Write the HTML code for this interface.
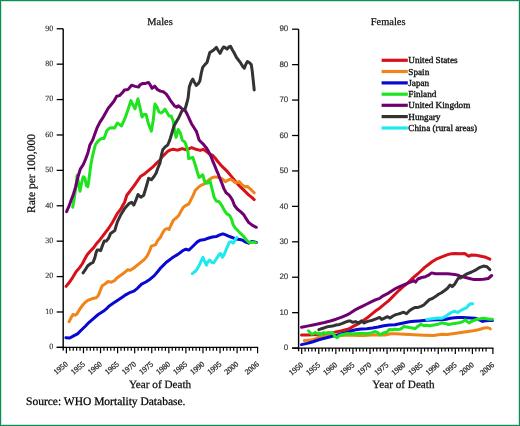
<!DOCTYPE html>
<html><head><meta charset="utf-8"><style>
html,body{margin:0;padding:0;background:#fff;}
body{width:520px;height:426px;overflow:hidden;}
svg{display:block;will-change:transform;filter:blur(0.3px);}
text{text-rendering:geometricPrecision;font-family:"Liberation Serif",serif;fill:#000;stroke:#000;stroke-width:0.25px;}
.ys{font-size:8px;fill:#333;stroke:#333;stroke-width:0.15px;}
.yss{font-family:"Liberation Sans",sans-serif;font-size:8px;fill:#333;stroke:#333;stroke-width:0.15px;}
.xl{font-size:7.9px;fill:#222;stroke:#222;}
.lg{font-size:9.2px;fill:#111;stroke:#111;stroke-width:0.35px;}
.t{font-size:10.4px;fill:#111;stroke:#111;}
.ax{font-size:11.2px;fill:#111;stroke:#111;}
.src{font-size:11.5px;fill:#000;}
</style></head><body>
<svg width="520" height="426" viewBox="0 0 520 426">
<rect x="0" y="0" width="520" height="426" fill="#fff"/>
<text x="147.3" y="25.4" class="t">Males</text>
<text x="370.8" y="25.4" class="t">Females</text>
<text transform="translate(34.7,213) rotate(-90)" class="ax" style="font-size:11.5px">Rate per 100,000</text>
<text x="128.9" y="388.4" class="ax">Year of Death</text>
<text x="372.3" y="388.3" class="ax">Year of Death</text>
<text x="26" y="405.3" class="src">Source: WHO Mortality Database.</text>
<line x1="63.2" y1="28.75" x2="63.2" y2="350.59999999999997" stroke="#000" stroke-width="1.4"/>
<line x1="56.7" y1="347.4" x2="258.184" y2="347.4" stroke="#000" stroke-width="1.4"/>
<line x1="56.7" y1="347.40" x2="63.2" y2="347.40" stroke="#000" stroke-width="1.3"/>
<text x="53.3" y="349.30" text-anchor="end" class="ys">0</text>
<line x1="56.7" y1="311.99" x2="63.2" y2="311.99" stroke="#000" stroke-width="1.3"/>
<text x="53.3" y="313.89" text-anchor="end" class="ys">10</text>
<line x1="56.7" y1="276.59" x2="63.2" y2="276.59" stroke="#000" stroke-width="1.3"/>
<text x="53.3" y="278.49" text-anchor="end" class="ys">20</text>
<line x1="56.7" y1="241.18" x2="63.2" y2="241.18" stroke="#000" stroke-width="1.3"/>
<text x="53.3" y="243.08" text-anchor="end" class="ys">30</text>
<line x1="56.7" y1="205.78" x2="63.2" y2="205.78" stroke="#000" stroke-width="1.3"/>
<text x="53.3" y="207.68" text-anchor="end" class="ys">40</text>
<line x1="56.7" y1="170.37" x2="63.2" y2="170.37" stroke="#000" stroke-width="1.3"/>
<text x="53.3" y="172.27" text-anchor="end" class="ys">50</text>
<line x1="56.7" y1="134.97" x2="63.2" y2="134.97" stroke="#000" stroke-width="1.3"/>
<text x="53.3" y="136.87" text-anchor="end" class="ys">60</text>
<line x1="56.7" y1="99.56" x2="63.2" y2="99.56" stroke="#000" stroke-width="1.3"/>
<text x="53.3" y="101.46" text-anchor="end" class="ys">70</text>
<line x1="56.7" y1="64.16" x2="63.2" y2="64.16" stroke="#000" stroke-width="1.3"/>
<text x="53.3" y="66.06" text-anchor="end" class="ys">80</text>
<line x1="56.7" y1="28.75" x2="63.2" y2="28.75" stroke="#000" stroke-width="1.3"/>
<text x="53.3" y="30.65" text-anchor="end" class="ys">90</text>
<line x1="66.40" y1="347.4" x2="66.40" y2="353.2" stroke="#000" stroke-width="1.2"/>
<text transform="translate(68.40,364.90) rotate(-40)" text-anchor="end" class="xl">1950</text>
<line x1="69.81" y1="347.4" x2="69.81" y2="350.79999999999995" stroke="#000" stroke-width="1.2"/>
<line x1="73.23" y1="347.4" x2="73.23" y2="350.79999999999995" stroke="#000" stroke-width="1.2"/>
<line x1="76.64" y1="347.4" x2="76.64" y2="350.79999999999995" stroke="#000" stroke-width="1.2"/>
<line x1="80.06" y1="347.4" x2="80.06" y2="350.79999999999995" stroke="#000" stroke-width="1.2"/>
<line x1="83.47" y1="347.4" x2="83.47" y2="353.2" stroke="#000" stroke-width="1.2"/>
<text transform="translate(85.47,364.90) rotate(-40)" text-anchor="end" class="xl">1955</text>
<line x1="86.88" y1="347.4" x2="86.88" y2="350.79999999999995" stroke="#000" stroke-width="1.2"/>
<line x1="90.30" y1="347.4" x2="90.30" y2="350.79999999999995" stroke="#000" stroke-width="1.2"/>
<line x1="93.71" y1="347.4" x2="93.71" y2="350.79999999999995" stroke="#000" stroke-width="1.2"/>
<line x1="97.13" y1="347.4" x2="97.13" y2="350.79999999999995" stroke="#000" stroke-width="1.2"/>
<line x1="100.54" y1="347.4" x2="100.54" y2="353.2" stroke="#000" stroke-width="1.2"/>
<text transform="translate(102.54,364.90) rotate(-40)" text-anchor="end" class="xl">1960</text>
<line x1="103.95" y1="347.4" x2="103.95" y2="350.79999999999995" stroke="#000" stroke-width="1.2"/>
<line x1="107.37" y1="347.4" x2="107.37" y2="350.79999999999995" stroke="#000" stroke-width="1.2"/>
<line x1="110.78" y1="347.4" x2="110.78" y2="350.79999999999995" stroke="#000" stroke-width="1.2"/>
<line x1="114.20" y1="347.4" x2="114.20" y2="350.79999999999995" stroke="#000" stroke-width="1.2"/>
<line x1="117.61" y1="347.4" x2="117.61" y2="353.2" stroke="#000" stroke-width="1.2"/>
<text transform="translate(119.61,364.90) rotate(-40)" text-anchor="end" class="xl">1965</text>
<line x1="121.02" y1="347.4" x2="121.02" y2="350.79999999999995" stroke="#000" stroke-width="1.2"/>
<line x1="124.44" y1="347.4" x2="124.44" y2="350.79999999999995" stroke="#000" stroke-width="1.2"/>
<line x1="127.85" y1="347.4" x2="127.85" y2="350.79999999999995" stroke="#000" stroke-width="1.2"/>
<line x1="131.27" y1="347.4" x2="131.27" y2="350.79999999999995" stroke="#000" stroke-width="1.2"/>
<line x1="134.68" y1="347.4" x2="134.68" y2="353.2" stroke="#000" stroke-width="1.2"/>
<text transform="translate(136.68,364.90) rotate(-40)" text-anchor="end" class="xl">1970</text>
<line x1="138.09" y1="347.4" x2="138.09" y2="350.79999999999995" stroke="#000" stroke-width="1.2"/>
<line x1="141.51" y1="347.4" x2="141.51" y2="350.79999999999995" stroke="#000" stroke-width="1.2"/>
<line x1="144.92" y1="347.4" x2="144.92" y2="350.79999999999995" stroke="#000" stroke-width="1.2"/>
<line x1="148.34" y1="347.4" x2="148.34" y2="350.79999999999995" stroke="#000" stroke-width="1.2"/>
<line x1="151.75" y1="347.4" x2="151.75" y2="353.2" stroke="#000" stroke-width="1.2"/>
<text transform="translate(153.75,364.90) rotate(-40)" text-anchor="end" class="xl">1975</text>
<line x1="155.16" y1="347.4" x2="155.16" y2="350.79999999999995" stroke="#000" stroke-width="1.2"/>
<line x1="158.58" y1="347.4" x2="158.58" y2="350.79999999999995" stroke="#000" stroke-width="1.2"/>
<line x1="161.99" y1="347.4" x2="161.99" y2="350.79999999999995" stroke="#000" stroke-width="1.2"/>
<line x1="165.41" y1="347.4" x2="165.41" y2="350.79999999999995" stroke="#000" stroke-width="1.2"/>
<line x1="168.82" y1="347.4" x2="168.82" y2="353.2" stroke="#000" stroke-width="1.2"/>
<text transform="translate(170.82,364.90) rotate(-40)" text-anchor="end" class="xl">1980</text>
<line x1="172.23" y1="347.4" x2="172.23" y2="350.79999999999995" stroke="#000" stroke-width="1.2"/>
<line x1="175.65" y1="347.4" x2="175.65" y2="350.79999999999995" stroke="#000" stroke-width="1.2"/>
<line x1="179.06" y1="347.4" x2="179.06" y2="350.79999999999995" stroke="#000" stroke-width="1.2"/>
<line x1="182.48" y1="347.4" x2="182.48" y2="350.79999999999995" stroke="#000" stroke-width="1.2"/>
<line x1="185.89" y1="347.4" x2="185.89" y2="353.2" stroke="#000" stroke-width="1.2"/>
<text transform="translate(187.89,364.90) rotate(-40)" text-anchor="end" class="xl">1985</text>
<line x1="189.30" y1="347.4" x2="189.30" y2="350.79999999999995" stroke="#000" stroke-width="1.2"/>
<line x1="192.72" y1="347.4" x2="192.72" y2="350.79999999999995" stroke="#000" stroke-width="1.2"/>
<line x1="196.13" y1="347.4" x2="196.13" y2="350.79999999999995" stroke="#000" stroke-width="1.2"/>
<line x1="199.55" y1="347.4" x2="199.55" y2="350.79999999999995" stroke="#000" stroke-width="1.2"/>
<line x1="202.96" y1="347.4" x2="202.96" y2="353.2" stroke="#000" stroke-width="1.2"/>
<text transform="translate(204.96,364.90) rotate(-40)" text-anchor="end" class="xl">1990</text>
<line x1="206.37" y1="347.4" x2="206.37" y2="350.79999999999995" stroke="#000" stroke-width="1.2"/>
<line x1="209.79" y1="347.4" x2="209.79" y2="350.79999999999995" stroke="#000" stroke-width="1.2"/>
<line x1="213.20" y1="347.4" x2="213.20" y2="350.79999999999995" stroke="#000" stroke-width="1.2"/>
<line x1="216.62" y1="347.4" x2="216.62" y2="350.79999999999995" stroke="#000" stroke-width="1.2"/>
<line x1="220.03" y1="347.4" x2="220.03" y2="353.2" stroke="#000" stroke-width="1.2"/>
<text transform="translate(222.03,364.90) rotate(-40)" text-anchor="end" class="xl">1995</text>
<line x1="223.44" y1="347.4" x2="223.44" y2="350.79999999999995" stroke="#000" stroke-width="1.2"/>
<line x1="226.86" y1="347.4" x2="226.86" y2="350.79999999999995" stroke="#000" stroke-width="1.2"/>
<line x1="230.27" y1="347.4" x2="230.27" y2="350.79999999999995" stroke="#000" stroke-width="1.2"/>
<line x1="233.69" y1="347.4" x2="233.69" y2="350.79999999999995" stroke="#000" stroke-width="1.2"/>
<line x1="237.10" y1="347.4" x2="237.10" y2="353.2" stroke="#000" stroke-width="1.2"/>
<text transform="translate(239.10,364.90) rotate(-40)" text-anchor="end" class="xl">2000</text>
<line x1="240.51" y1="347.4" x2="240.51" y2="350.79999999999995" stroke="#000" stroke-width="1.2"/>
<line x1="243.93" y1="347.4" x2="243.93" y2="350.79999999999995" stroke="#000" stroke-width="1.2"/>
<line x1="247.34" y1="347.4" x2="247.34" y2="350.79999999999995" stroke="#000" stroke-width="1.2"/>
<line x1="250.76" y1="347.4" x2="250.76" y2="350.79999999999995" stroke="#000" stroke-width="1.2"/>
<line x1="257.58" y1="347.4" x2="257.58" y2="353.2" stroke="#000" stroke-width="1.2"/>
<text transform="translate(259.58,364.90) rotate(-40)" text-anchor="end" class="xl">2006</text>
<line x1="298.6" y1="29.2" x2="298.6" y2="351.3" stroke="#000" stroke-width="1.4"/>
<line x1="292.1" y1="348.1" x2="493.48400000000004" y2="348.1" stroke="#000" stroke-width="1.4"/>
<line x1="292.1" y1="348.10" x2="298.6" y2="348.10" stroke="#000" stroke-width="1.3"/>
<text x="288.3" y="350.30" text-anchor="end" class="yss">0</text>
<line x1="292.1" y1="312.67" x2="298.6" y2="312.67" stroke="#000" stroke-width="1.3"/>
<text x="288.3" y="314.87" text-anchor="end" class="yss">10</text>
<line x1="292.1" y1="277.23" x2="298.6" y2="277.23" stroke="#000" stroke-width="1.3"/>
<text x="288.3" y="279.43" text-anchor="end" class="yss">20</text>
<line x1="292.1" y1="241.80" x2="298.6" y2="241.80" stroke="#000" stroke-width="1.3"/>
<text x="288.3" y="244.00" text-anchor="end" class="yss">30</text>
<line x1="292.1" y1="206.37" x2="298.6" y2="206.37" stroke="#000" stroke-width="1.3"/>
<text x="288.3" y="208.57" text-anchor="end" class="yss">40</text>
<line x1="292.1" y1="170.93" x2="298.6" y2="170.93" stroke="#000" stroke-width="1.3"/>
<text x="288.3" y="173.13" text-anchor="end" class="yss">50</text>
<line x1="292.1" y1="135.50" x2="298.6" y2="135.50" stroke="#000" stroke-width="1.3"/>
<text x="288.3" y="137.70" text-anchor="end" class="yss">60</text>
<line x1="292.1" y1="100.07" x2="298.6" y2="100.07" stroke="#000" stroke-width="1.3"/>
<text x="288.3" y="102.27" text-anchor="end" class="yss">70</text>
<line x1="292.1" y1="64.63" x2="298.6" y2="64.63" stroke="#000" stroke-width="1.3"/>
<text x="288.3" y="66.83" text-anchor="end" class="yss">80</text>
<line x1="292.1" y1="29.20" x2="298.6" y2="29.20" stroke="#000" stroke-width="1.3"/>
<text x="288.3" y="31.40" text-anchor="end" class="yss">90</text>
<line x1="301.70" y1="348.1" x2="301.70" y2="353.90000000000003" stroke="#000" stroke-width="1.2"/>
<text transform="translate(303.70,365.60) rotate(-40)" text-anchor="end" class="xl">1950</text>
<line x1="305.11" y1="348.1" x2="305.11" y2="351.5" stroke="#000" stroke-width="1.2"/>
<line x1="308.53" y1="348.1" x2="308.53" y2="351.5" stroke="#000" stroke-width="1.2"/>
<line x1="311.94" y1="348.1" x2="311.94" y2="351.5" stroke="#000" stroke-width="1.2"/>
<line x1="315.36" y1="348.1" x2="315.36" y2="351.5" stroke="#000" stroke-width="1.2"/>
<line x1="318.77" y1="348.1" x2="318.77" y2="353.90000000000003" stroke="#000" stroke-width="1.2"/>
<text transform="translate(320.77,365.60) rotate(-40)" text-anchor="end" class="xl">1955</text>
<line x1="322.18" y1="348.1" x2="322.18" y2="351.5" stroke="#000" stroke-width="1.2"/>
<line x1="325.60" y1="348.1" x2="325.60" y2="351.5" stroke="#000" stroke-width="1.2"/>
<line x1="329.01" y1="348.1" x2="329.01" y2="351.5" stroke="#000" stroke-width="1.2"/>
<line x1="332.43" y1="348.1" x2="332.43" y2="351.5" stroke="#000" stroke-width="1.2"/>
<line x1="335.84" y1="348.1" x2="335.84" y2="353.90000000000003" stroke="#000" stroke-width="1.2"/>
<text transform="translate(337.84,365.60) rotate(-40)" text-anchor="end" class="xl">1960</text>
<line x1="339.25" y1="348.1" x2="339.25" y2="351.5" stroke="#000" stroke-width="1.2"/>
<line x1="342.67" y1="348.1" x2="342.67" y2="351.5" stroke="#000" stroke-width="1.2"/>
<line x1="346.08" y1="348.1" x2="346.08" y2="351.5" stroke="#000" stroke-width="1.2"/>
<line x1="349.50" y1="348.1" x2="349.50" y2="351.5" stroke="#000" stroke-width="1.2"/>
<line x1="352.91" y1="348.1" x2="352.91" y2="353.90000000000003" stroke="#000" stroke-width="1.2"/>
<text transform="translate(354.91,365.60) rotate(-40)" text-anchor="end" class="xl">1965</text>
<line x1="356.32" y1="348.1" x2="356.32" y2="351.5" stroke="#000" stroke-width="1.2"/>
<line x1="359.74" y1="348.1" x2="359.74" y2="351.5" stroke="#000" stroke-width="1.2"/>
<line x1="363.15" y1="348.1" x2="363.15" y2="351.5" stroke="#000" stroke-width="1.2"/>
<line x1="366.57" y1="348.1" x2="366.57" y2="351.5" stroke="#000" stroke-width="1.2"/>
<line x1="369.98" y1="348.1" x2="369.98" y2="353.90000000000003" stroke="#000" stroke-width="1.2"/>
<text transform="translate(371.98,365.60) rotate(-40)" text-anchor="end" class="xl">1970</text>
<line x1="373.39" y1="348.1" x2="373.39" y2="351.5" stroke="#000" stroke-width="1.2"/>
<line x1="376.81" y1="348.1" x2="376.81" y2="351.5" stroke="#000" stroke-width="1.2"/>
<line x1="380.22" y1="348.1" x2="380.22" y2="351.5" stroke="#000" stroke-width="1.2"/>
<line x1="383.64" y1="348.1" x2="383.64" y2="351.5" stroke="#000" stroke-width="1.2"/>
<line x1="387.05" y1="348.1" x2="387.05" y2="353.90000000000003" stroke="#000" stroke-width="1.2"/>
<text transform="translate(389.05,365.60) rotate(-40)" text-anchor="end" class="xl">1975</text>
<line x1="390.46" y1="348.1" x2="390.46" y2="351.5" stroke="#000" stroke-width="1.2"/>
<line x1="393.88" y1="348.1" x2="393.88" y2="351.5" stroke="#000" stroke-width="1.2"/>
<line x1="397.29" y1="348.1" x2="397.29" y2="351.5" stroke="#000" stroke-width="1.2"/>
<line x1="400.71" y1="348.1" x2="400.71" y2="351.5" stroke="#000" stroke-width="1.2"/>
<line x1="404.12" y1="348.1" x2="404.12" y2="353.90000000000003" stroke="#000" stroke-width="1.2"/>
<text transform="translate(406.12,365.60) rotate(-40)" text-anchor="end" class="xl">1980</text>
<line x1="407.53" y1="348.1" x2="407.53" y2="351.5" stroke="#000" stroke-width="1.2"/>
<line x1="410.95" y1="348.1" x2="410.95" y2="351.5" stroke="#000" stroke-width="1.2"/>
<line x1="414.36" y1="348.1" x2="414.36" y2="351.5" stroke="#000" stroke-width="1.2"/>
<line x1="417.78" y1="348.1" x2="417.78" y2="351.5" stroke="#000" stroke-width="1.2"/>
<line x1="421.19" y1="348.1" x2="421.19" y2="353.90000000000003" stroke="#000" stroke-width="1.2"/>
<text transform="translate(423.19,365.60) rotate(-40)" text-anchor="end" class="xl">1985</text>
<line x1="424.60" y1="348.1" x2="424.60" y2="351.5" stroke="#000" stroke-width="1.2"/>
<line x1="428.02" y1="348.1" x2="428.02" y2="351.5" stroke="#000" stroke-width="1.2"/>
<line x1="431.43" y1="348.1" x2="431.43" y2="351.5" stroke="#000" stroke-width="1.2"/>
<line x1="434.85" y1="348.1" x2="434.85" y2="351.5" stroke="#000" stroke-width="1.2"/>
<line x1="438.26" y1="348.1" x2="438.26" y2="353.90000000000003" stroke="#000" stroke-width="1.2"/>
<text transform="translate(440.26,365.60) rotate(-40)" text-anchor="end" class="xl">1990</text>
<line x1="441.67" y1="348.1" x2="441.67" y2="351.5" stroke="#000" stroke-width="1.2"/>
<line x1="445.09" y1="348.1" x2="445.09" y2="351.5" stroke="#000" stroke-width="1.2"/>
<line x1="448.50" y1="348.1" x2="448.50" y2="351.5" stroke="#000" stroke-width="1.2"/>
<line x1="451.92" y1="348.1" x2="451.92" y2="351.5" stroke="#000" stroke-width="1.2"/>
<line x1="455.33" y1="348.1" x2="455.33" y2="353.90000000000003" stroke="#000" stroke-width="1.2"/>
<text transform="translate(457.33,365.60) rotate(-40)" text-anchor="end" class="xl">1995</text>
<line x1="458.74" y1="348.1" x2="458.74" y2="351.5" stroke="#000" stroke-width="1.2"/>
<line x1="462.16" y1="348.1" x2="462.16" y2="351.5" stroke="#000" stroke-width="1.2"/>
<line x1="465.57" y1="348.1" x2="465.57" y2="351.5" stroke="#000" stroke-width="1.2"/>
<line x1="468.99" y1="348.1" x2="468.99" y2="351.5" stroke="#000" stroke-width="1.2"/>
<line x1="472.40" y1="348.1" x2="472.40" y2="353.90000000000003" stroke="#000" stroke-width="1.2"/>
<text transform="translate(474.40,365.60) rotate(-40)" text-anchor="end" class="xl">2000</text>
<line x1="475.81" y1="348.1" x2="475.81" y2="351.5" stroke="#000" stroke-width="1.2"/>
<line x1="479.23" y1="348.1" x2="479.23" y2="351.5" stroke="#000" stroke-width="1.2"/>
<line x1="482.64" y1="348.1" x2="482.64" y2="351.5" stroke="#000" stroke-width="1.2"/>
<line x1="486.06" y1="348.1" x2="486.06" y2="351.5" stroke="#000" stroke-width="1.2"/>
<line x1="492.88" y1="348.1" x2="492.88" y2="353.90000000000003" stroke="#000" stroke-width="1.2"/>
<text transform="translate(494.88,365.60) rotate(-40)" text-anchor="end" class="xl">2006</text>
<polyline points="66.1,286.4 69.0,282.8 72.6,277.6 76.1,271.7 79.6,267.6 82.5,263.5 84.9,258.8 87.2,254.7 90.2,251.2 93.7,247.6 96.6,243.5 100.0,239.7 104.2,234.1 108.5,228.5 112.4,222.5 116.9,214.2 121.1,208.6 124.6,202.3 126.8,195.2 129.6,191.7 133.8,186.1 137.3,181.1 140.8,176.2 145.1,173.4 149.3,169.9 153.5,166.3 157.7,162.1 160.0,160.0 162.5,156.5 164.9,154.2 167.7,151.3 170.5,149.9 173.3,149.2 176.1,149.9 178.0,150.0 182.2,148.6 186.4,149.8 191.7,147.6 196.0,149.3 200.2,150.4 203.3,149.3 206.5,151.6 209.7,154.1 212.8,155.4 215.5,158.5 218.0,161.8 220.4,164.6 223.9,168.2 227.5,171.7 231.0,175.9 234.5,180.1 238.0,184.4 241.5,187.9 245.1,191.4 248.6,194.9 252.1,197.7 254.2,199.6" fill="none" stroke="#d8101a" stroke-width="3.0" stroke-linejoin="round" stroke-linecap="round"/>
<polyline points="69.1,321.7 71.0,317.8 73.0,314.5 74.9,315.2 76.9,313.9 78.8,310.7 81.4,306.8 84.6,302.9 87.8,300.3 91.7,298.8 96.2,297.8 98.2,295.8 99.5,292.6 101.0,288.5 102.5,285.5 105.0,284.0 107.8,281.6 111.3,282.2 114.9,280.3 116.9,277.9 121.1,275.0 124.6,272.5 127.5,269.8 130.3,270.3 133.8,268.0 137.3,265.1 140.8,262.3 144.4,259.4 147.2,255.9 149.3,251.7 151.4,246.1 153.5,245.4 155.6,244.6 157.7,240.5 160.6,237.0 162.7,232.7 164.9,229.5 167.0,228.5 169.1,229.5 171.3,224.5 173.4,220.1 176.2,218.0 179.0,215.1 181.1,210.9 183.2,207.4 186.1,205.3 188.9,203.9 191.0,199.6 193.1,195.4 195.2,190.5 198.0,187.7 200.8,185.4 203.7,184.2 206.5,182.0 209.3,179.6 212.1,177.8 215.0,176.9 218.5,177.2 221.9,178.7 225.4,181.6 229.5,179.2 232.3,180.1 235.2,182.7 239.3,181.6 242.2,185.0 245.0,186.8 247.2,186.5 250.0,188.6 252.1,190.7 254.2,192.8" fill="none" stroke="#f08418" stroke-width="3.0" stroke-linejoin="round" stroke-linecap="round"/>
<polyline points="65.9,337.8 69.8,338.0 73.6,335.9 77.5,333.9 81.4,330.0 85.3,326.2 89.1,322.3 94.3,317.8 98.2,314.5 103.3,311.3 107.2,308.1 109.2,305.9 113.5,303.1 117.7,300.3 121.9,297.5 126.1,294.6 130.4,292.3 133.9,291.1 137.4,288.3 141.6,284.1 145.8,282.0 150.1,279.2 154.3,275.6 157.8,271.5 160.6,268.0 163.5,265.1 166.3,262.3 169.1,260.2 171.9,258.1 174.7,256.3 177.5,254.6 180.4,252.5 183.2,250.4 186.0,249.2 188.8,250.1 191.6,247.5 194.4,244.7 197.3,241.9 200.1,240.2 205.0,239.4 208.8,238.0 212.5,237.0 216.3,236.6 219.1,235.2 222.8,233.8 225.2,234.7 228.5,236.1 232.2,237.5 236.0,238.9 239.7,239.4 242.6,240.3 245.8,242.1 248.6,243.2 252.1,241.4 256.3,242.4" fill="none" stroke="#0808d4" stroke-width="3.0" stroke-linejoin="round" stroke-linecap="round"/>
<polyline points="72.7,207.2 74.2,198.8 75.7,188.1 77.2,175.2 78.8,185.1 80.0,191.2 81.8,182.0 83.3,176.7 84.9,178.2 86.4,185.8 87.9,186.6 89.4,175.9 91.0,163.7 92.5,156.1 94.0,150.0 95.6,144.2 98.4,140.7 101.2,138.6 104.0,138.6 106.8,130.8 109.6,128.0 112.5,127.7 114.6,128.0 117.4,123.1 119.5,124.5 121.6,125.9 124.4,119.6 125.0,118.2 127.9,110.0 130.9,100.6 133.2,105.3 135.0,108.8 137.9,98.8 140.3,108.8 142.0,117.0 143.8,114.6 146.1,114.6 148.5,124.0 151.4,131.1 153.2,120.5 154.9,104.1 156.7,106.4 159.0,112.0 161.1,113.0 163.2,111.5 164.9,109.1 167.0,112.6 169.1,116.1 171.2,116.1 173.3,121.1 174.7,131.6 176.1,137.3 178.2,129.5 180.4,133.0 182.2,140.0 184.9,142.1 186.4,146.3 188.0,151.6 188.6,158.5 190.7,158.0 192.8,157.4 194.4,162.2 196.0,167.5 197.5,172.7 199.1,177.5 200.7,176.4 202.8,174.8 203.9,179.1 205.5,183.3 207.9,183.0 210.0,180.6 212.1,189.1 214.2,197.5 216.3,201.1 219.2,201.8 221.8,205.5 223.9,209.7 226.8,213.9 229.6,215.4 231.7,219.6 233.1,224.5 235.2,228.0 238.0,230.8 240.8,233.7 243.7,236.5 246.5,240.0 249.3,242.8 252.1,242.1 255.6,242.8" fill="none" stroke="#1ee41e" stroke-width="3.0" stroke-linejoin="round" stroke-linecap="round"/>
<polyline points="66.6,211.7 68.9,206.4 71.1,200.3 73.4,194.2 75.7,186.6 78.0,176.7 80.3,169.1 83.3,164.5 85.6,159.1 87.9,153.0 89.9,144.9 92.7,140.0 94.9,133.7 97.0,128.0 99.8,122.4 102.6,118.2 105.4,113.2 108.2,108.3 111.1,104.8 113.9,101.3 116.7,96.3 119.5,95.6 122.3,92.8 124.4,90.0 128.1,89.4 131.6,85.2 135.1,86.4 138.6,87.1 140.0,84.8 142.8,83.4 145.6,83.4 148.5,82.4 150.6,85.5 152.0,88.3 154.8,86.2 157.6,89.7 160.4,91.1 163.2,91.8 166.1,93.9 168.2,96.8 170.3,100.3 172.4,103.1 174.5,105.9 176.6,107.3 178.5,105.8 180.6,107.5 182.8,109.5 185.2,110.5 187.3,114.5 189.4,119.1 191.5,123.7 193.9,127.5 196.5,131.6 199.1,140.0 201.0,142.0 203.3,144.2 206.5,147.9 208.6,151.6 210.7,155.8 212.8,161.1 215.0,166.4 217.1,171.7 218.3,174.2 219.7,178.0 221.8,183.0 223.9,188.6 226.1,192.8 228.9,194.9 231.0,197.7 232.4,200.0 234.5,205.5 237.3,209.0 240.8,211.8 243.7,214.6 245.8,218.2 248.6,222.4 252.1,225.2 256.3,227.3" fill="none" stroke="#700070" stroke-width="3.0" stroke-linejoin="round" stroke-linecap="round"/>
<polyline points="83.1,272.9 85.5,269.3 87.8,265.8 90.8,263.5 93.1,262.3 94.9,257.6 96.0,252.9 97.2,250.0 99.0,250.0 100.7,250.6 102.3,246.0 104.2,241.1 106.3,241.1 108.5,238.3 110.6,233.4 112.7,232.0 114.8,230.6 116.2,225.6 117.6,221.4 121.1,214.2 124.6,208.6 128.9,203.7 131.7,202.3 133.8,205.1 135.9,200.1 138.0,194.5 140.8,197.3 143.7,195.2 145.8,188.2 148.6,178.3 151.4,179.7 154.2,176.2 156.3,172.7 157.7,168.5 160.0,163.0 161.2,156.0 162.7,149.9 164.9,147.1 167.7,145.0 169.8,140.1 171.9,133.0 174.0,126.0 176.8,121.1 178.9,117.5 181.1,112.6 183.2,109.1 185.3,108.4 186.7,103.5 188.1,97.8 189.3,86.9 191.4,81.3 192.8,79.2 194.2,82.0 196.3,85.5 198.5,83.4 199.9,80.8 201.3,73.0 202.7,67.4 204.9,64.6 207.0,62.5 208.4,57.5 209.8,52.6 211.9,51.2 214.0,49.8 216.4,47.4 218.2,50.5 220.1,53.3 221.8,49.8 223.5,47.0 225.3,47.7 227.1,49.1 228.8,47.0 230.5,46.3 232.3,49.8 234.4,53.3 236.5,57.5 238.7,60.4 240.8,63.2 242.9,66.7 244.3,68.1 245.7,64.6 247.4,61.5 249.2,62.5 251.3,64.6 252.3,71.6 253.2,80.1 254.2,89.9" fill="none" stroke="#333333" stroke-width="3.0" stroke-linejoin="round" stroke-linecap="round"/>
<polyline points="192.3,273.6 195.1,271.5 197.3,268.7 199.4,265.1 201.5,260.2 202.9,257.4 204.3,260.9 206.4,265.2 207.8,261.9 209.7,260.0 211.6,262.4 213.5,262.9 215.3,260.5 217.2,257.7 219.1,254.4 220.5,253.5 222.4,257.2 223.8,255.4 225.7,250.7 227.5,246.4 229.4,242.2 231.3,241.7 233.2,243.1 234.6,241.3 235.5,238.9 236.9,237.5" fill="none" stroke="#1ee8f0" stroke-width="3.0" stroke-linejoin="round" stroke-linecap="round"/>
<polyline points="301.5,335.1 307.2,335.1 313.0,334.8 318.8,334.2 324.5,333.6 330.3,333.1 336.1,331.9 341.8,330.8 347.6,329.2 350.0,328.4 354.2,325.8 358.5,323.7 362.7,320.9 366.9,318.1 371.1,314.6 375.4,311.1 379.6,308.2 383.8,304.7 388.5,300.9 392.0,297.4 395.6,293.8 399.1,290.3 402.6,287.1 406.1,284.3 408.9,281.9 411.8,279.0 415.0,276.2 417.6,274.0 420.9,271.0 424.7,267.4 428.5,264.5 432.4,261.5 436.2,259.2 440.0,257.6 443.8,256.1 447.6,254.6 451.4,253.8 455.3,253.4 460.0,253.8 464.7,253.5 468.8,256.2 471.7,255.0 476.4,255.3 481.1,256.2 485.8,257.3 489.9,259.1" fill="none" stroke="#d8101a" stroke-width="3.0" stroke-linejoin="round" stroke-linecap="round"/>
<polyline points="304.3,340.6 308.4,340.2 313.0,339.8 317.6,337.7 322.2,336.5 326.8,336.0 331.4,335.6 336.1,335.4 341.8,335.4 347.6,335.1 353.4,335.3 358.0,335.5 364.1,335.4 371.1,335.0 378.2,335.0 385.2,335.0 390.8,333.8 395.0,333.8 404.6,334.3 414.2,334.8 423.8,335.3 433.5,335.6 442.0,334.3 447.2,334.6 452.4,333.8 457.6,333.1 462.8,332.3 468.0,331.4 473.2,330.7 478.3,329.7 483.5,328.3 486.7,327.6 489.2,328.1 490.3,328.9" fill="none" stroke="#f08418" stroke-width="3.0" stroke-linejoin="round" stroke-linecap="round"/>
<polyline points="301.5,344.6 307.2,343.4 313.0,341.7 318.8,339.8 324.5,338.3 330.3,336.8 336.1,335.4 341.8,333.6 347.6,332.1 350.0,331.3 355.6,329.8 361.3,328.9 366.9,328.7 372.5,328.0 378.2,327.0 383.8,325.8 389.4,325.1 395.0,324.8 399.8,323.8 404.6,322.8 409.4,321.8 414.2,321.3 419.0,320.9 423.8,320.4 426.7,320.2 432.3,319.9 438.5,319.6 442.0,319.8 446.2,319.3 450.3,318.2 454.5,317.7 458.6,317.5 462.8,317.5 466.9,317.7 471.1,317.9 475.2,318.2 479.4,319.8 482.5,321.4 485.6,320.8 488.7,320.6 492.4,320.6" fill="none" stroke="#0808d4" stroke-width="3.0" stroke-linejoin="round" stroke-linecap="round"/>
<polyline points="308.4,330.8 310.1,332.5 311.8,334.2 313.6,333.6 315.3,332.5 317.0,333.6 318.8,333.1 321.1,334.8 323.4,332.5 325.7,333.6 328.0,332.5 330.3,333.1 332.6,332.5 334.9,336.5 337.2,337.7 339.5,335.4 341.8,334.8 344.1,334.2 347.6,333.6 352.2,334.0 358.0,333.6 366.9,333.6 371.1,332.9 375.4,331.5 378.2,332.9 380.3,335.0 383.1,332.9 386.6,332.2 389.4,329.4 392.3,329.8 395.0,329.2 397.9,329.5 400.8,329.0 403.7,326.6 406.5,327.1 409.4,327.6 412.3,328.1 415.2,328.6 418.1,326.2 421.0,324.2 423.8,325.7 426.7,325.2 429.6,325.7 432.5,325.2 435.4,324.7 438.3,324.2 442.0,322.9 445.1,323.4 448.2,324.5 451.3,324.0 454.5,323.4 457.6,322.9 460.7,322.4 463.3,321.4 465.4,319.8 466.9,321.4 469.0,322.9 471.6,321.4 474.2,320.3 477.3,319.3 480.4,318.8 483.5,318.2 486.7,318.8 489.8,319.3 492.4,319.3" fill="none" stroke="#1ee41e" stroke-width="3.0" stroke-linejoin="round" stroke-linecap="round"/>
<polyline points="301.5,327.3 307.2,326.1 313.0,325.0 318.8,323.8 324.5,322.5 330.3,321.0 336.1,319.2 341.8,317.2 347.6,314.6 350.0,313.2 354.2,310.4 358.5,308.2 362.7,306.1 366.9,304.0 371.1,301.9 375.4,299.8 379.6,298.4 383.1,295.8 385.0,294.9 388.5,293.1 392.0,290.7 395.6,288.5 399.1,286.8 402.6,285.4 406.1,284.0 408.9,282.6 411.8,281.6 413.8,280.6 415.6,282.1 417.8,279.0 421.7,277.5 425.5,276.7 428.5,275.2 431.6,272.9 435.4,273.7 439.2,273.7 443.0,273.7 446.9,273.7 450.7,274.1 454.5,274.4 458.0,275.2 460.0,276.1 464.7,277.3 469.4,278.5 474.1,279.6 478.8,279.6 483.5,279.3 488.2,278.5 491.7,275.5" fill="none" stroke="#700070" stroke-width="3.0" stroke-linejoin="round" stroke-linecap="round"/>
<polyline points="318.8,329.6 322.2,328.5 325.7,327.3 329.1,326.4 332.6,326.1 336.1,325.0 339.5,324.4 342.4,323.3 345.3,322.1 348.7,321.0 350.0,320.9 352.8,322.3 355.6,321.6 358.5,323.0 361.3,320.9 364.1,323.0 366.9,321.6 369.7,320.9 372.5,320.2 376.1,318.8 379.6,317.4 381.7,319.5 384.5,318.1 387.3,316.7 390.1,318.1 393.0,316.0 395.8,314.6 397.9,314.1 400.8,313.2 403.7,312.2 406.5,313.7 409.4,310.8 412.3,308.8 415.2,307.4 418.1,307.4 421.0,306.4 423.8,305.0 426.2,302.7 429.3,299.6 432.4,298.5 435.4,296.6 438.5,294.3 441.5,292.7 444.6,290.5 447.6,288.2 449.9,285.1 452.2,286.6 454.5,284.4 456.8,280.5 458.5,278.0 460.5,278.0 463.5,276.1 467.0,273.8 471.7,272.0 476.4,269.6 480.0,267.3 483.5,266.1 487.0,266.7 489.9,269.6" fill="none" stroke="#333333" stroke-width="3.0" stroke-linejoin="round" stroke-linecap="round"/>
<polyline points="426.7,319.4 432.3,318.8 438.5,318.1 442.0,318.2 445.1,316.7 448.2,314.6 451.3,312.5 454.5,311.0 457.6,312.5 460.7,310.5 463.8,308.9 466.4,307.9 468.5,305.3 470.6,303.7 472.6,303.7" fill="none" stroke="#1ee8f0" stroke-width="3.0" stroke-linejoin="round" stroke-linecap="round"/>
<line x1="381.6" y1="60.3" x2="407.8" y2="60.3" stroke="#d8101a" stroke-width="3.2"/>
<text x="408.3" y="63.40" class="lg">United States</text>
<line x1="381.6" y1="71.5" x2="407.8" y2="71.5" stroke="#f08418" stroke-width="3.2"/>
<text x="408.3" y="74.60" class="lg">Spain</text>
<line x1="381.6" y1="82.9" x2="407.8" y2="82.9" stroke="#0808d4" stroke-width="3.2"/>
<text x="408.3" y="86.00" class="lg">Japan</text>
<line x1="381.6" y1="94.2" x2="407.8" y2="94.2" stroke="#1ee41e" stroke-width="3.2"/>
<text x="408.3" y="97.30" class="lg">Finland</text>
<line x1="381.6" y1="105.3" x2="407.8" y2="105.3" stroke="#700070" stroke-width="3.2"/>
<text x="408.3" y="108.40" class="lg">United Kingdom</text>
<line x1="381.6" y1="116.6" x2="407.8" y2="116.6" stroke="#333333" stroke-width="3.2"/>
<text x="408.3" y="119.70" class="lg">Hungary</text>
<line x1="381.6" y1="128.0" x2="407.8" y2="128.0" stroke="#1ee8f0" stroke-width="3.2"/>
<text x="408.3" y="131.10" class="lg">China (rural areas)</text>
<rect x="0.5" y="0.5" width="519" height="425" fill="none" stroke="#1d8456" stroke-width="1"/>
<rect x="1.5" y="1.5" width="517" height="423" fill="none" stroke="#b8f0d8" stroke-width="1"/>
</svg>
</body></html>
